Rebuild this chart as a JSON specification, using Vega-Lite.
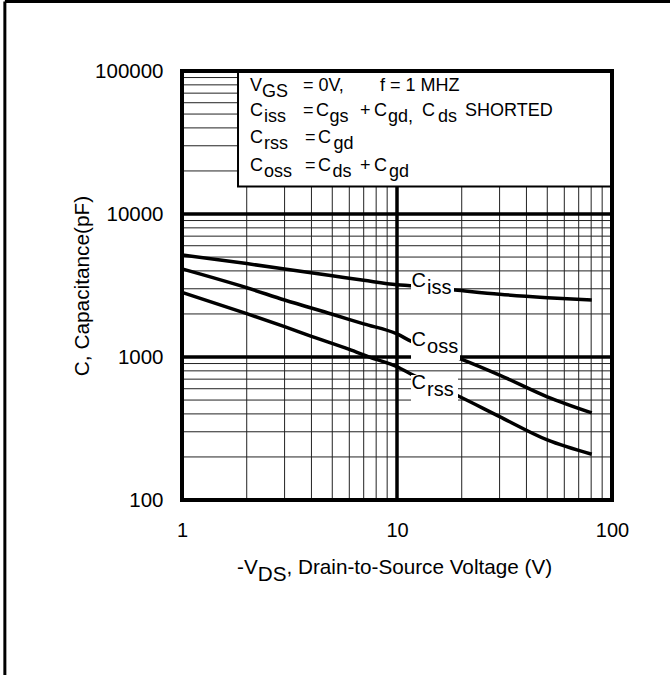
{
  "$schema": "https://vega.github.io/schema/vega-lite/v6.json",
  "width": 430,
  "height": 429,
  "autosize": {"type": "none"},
  "padding": {"left": 182, "top": 71, "right": 58, "bottom": 175},
  "background": "white",
  "config": {"view": {"stroke": null}, "font": "Liberation Sans"},
  "datasets": {
    "grid": [
      {"dir": "v", "val": 2, "kind": "minor"}, {"dir": "v", "val": 3, "kind": "minor"}, {"dir": "v", "val": 4, "kind": "minor"}, {"dir": "v", "val": 5, "kind": "minor"},
      {"dir": "v", "val": 6, "kind": "minor"}, {"dir": "v", "val": 7, "kind": "minor"}, {"dir": "v", "val": 8, "kind": "minor"}, {"dir": "v", "val": 9, "kind": "minor"},
      {"dir": "v", "val": 20, "kind": "minor"}, {"dir": "v", "val": 30, "kind": "minor"}, {"dir": "v", "val": 40, "kind": "minor"}, {"dir": "v", "val": 50, "kind": "minor"},
      {"dir": "v", "val": 60, "kind": "minor"}, {"dir": "v", "val": 70, "kind": "minor"}, {"dir": "v", "val": 80, "kind": "minor"}, {"dir": "v", "val": 90, "kind": "minor"},
      {"dir": "h", "val": 200, "kind": "minor"}, {"dir": "h", "val": 300, "kind": "minor"}, {"dir": "h", "val": 400, "kind": "minor"}, {"dir": "h", "val": 500, "kind": "minor"},
      {"dir": "h", "val": 600, "kind": "minor"}, {"dir": "h", "val": 700, "kind": "minor"}, {"dir": "h", "val": 800, "kind": "minor"}, {"dir": "h", "val": 900, "kind": "minor"},
      {"dir": "h", "val": 2000, "kind": "minor"}, {"dir": "h", "val": 3000, "kind": "minor"}, {"dir": "h", "val": 4000, "kind": "minor"}, {"dir": "h", "val": 5000, "kind": "minor"},
      {"dir": "h", "val": 6000, "kind": "minor"}, {"dir": "h", "val": 7000, "kind": "minor"}, {"dir": "h", "val": 8000, "kind": "minor"}, {"dir": "h", "val": 9000, "kind": "minor"},
      {"dir": "h", "val": 20000, "kind": "minor"}, {"dir": "h", "val": 30000, "kind": "minor"}, {"dir": "h", "val": 40000, "kind": "minor"}, {"dir": "h", "val": 50000, "kind": "minor"},
      {"dir": "h", "val": 60000, "kind": "minor"}, {"dir": "h", "val": 70000, "kind": "minor"}, {"dir": "h", "val": 80000, "kind": "minor"}, {"dir": "h", "val": 90000, "kind": "minor"},
      {"dir": "v", "val": 10, "kind": "major"},
      {"dir": "h", "val": 1000, "kind": "major"}, {"dir": "h", "val": 10000, "kind": "major"}
    ],
    "curves": [
      {"series": "Ciss", "vds": 1, "c": 5170}, {"series": "Ciss", "vds": 2, "c": 4500}, {"series": "Ciss", "vds": 3, "c": 4130},
      {"series": "Ciss", "vds": 5, "c": 3700}, {"series": "Ciss", "vds": 7, "c": 3440}, {"series": "Ciss", "vds": 10, "c": 3200},
      {"series": "Ciss", "vds": 11.5, "c": 3150}, {"series": "Ciss", "vds": 18.6, "c": 2940}, {"series": "Ciss", "vds": 30, "c": 2745},
      {"series": "Ciss", "vds": 50, "c": 2600}, {"series": "Ciss", "vds": 80.5, "c": 2500},
      {"series": "Coss", "vds": 1, "c": 4130}, {"series": "Coss", "vds": 2, "c": 3050}, {"series": "Coss", "vds": 3, "c": 2505},
      {"series": "Coss", "vds": 5, "c": 1990}, {"series": "Coss", "vds": 7, "c": 1705}, {"series": "Coss", "vds": 10, "c": 1450},
      {"series": "Coss", "vds": 11.6, "c": 1290}, {"series": "Coss", "vds": 20, "c": 964}, {"series": "Coss", "vds": 30, "c": 748},
      {"series": "Coss", "vds": 50, "c": 527}, {"series": "Coss", "vds": 80.5, "c": 407},
      {"series": "Crss", "vds": 1, "c": 2834}, {"series": "Crss", "vds": 2, "c": 2010}, {"series": "Crss", "vds": 3, "c": 1630},
      {"series": "Crss", "vds": 4, "c": 1395}, {"series": "Crss", "vds": 6, "c": 1130}, {"series": "Crss", "vds": 7.5, "c": 995},
      {"series": "Crss", "vds": 10, "c": 855}, {"series": "Crss", "vds": 11.8, "c": 750}, {"series": "Crss", "vds": 19.6, "c": 527},
      {"series": "Crss", "vds": 30, "c": 383}, {"series": "Crss", "vds": 50, "c": 263}, {"series": "Crss", "vds": 80.5, "c": 209}
    ],
    "boxes": [
      {"kind": "legend", "x1": 1.822, "x2": 100, "y1": 15570, "y2": 100000},
      {"kind": "label", "x1": 11.62, "x2": 18.41, "y1": 2627, "y2": 3930},
      {"kind": "label", "x1": 11.62, "x2": 19.64, "y1": 953, "y2": 1520},
      {"kind": "label", "x1": 11.62, "x2": 19.22, "y1": 492, "y2": 748},
      {"kind": "frame", "x1": 1, "x2": 100, "y1": 100, "y2": 100000}
    ],
    "border": [
      {"x1": 0.15, "x2": 200, "y1": 306000, "y2": 306000},
      {"x1": 0.15, "x2": 0.15, "y1": 306000, "y2": 5}
    ],
    "texts": [
      {"grp": "legend", "sub": false, "t": "V", "x": 2.072, "y": 77940},
      {"grp": "legend", "sub": true, "t": "GS", "x": 2.356, "y": 77940},
      {"grp": "legend", "sub": false, "t": "= 0V,", "x": 3.654, "y": 77940},
      {"grp": "legend", "sub": false, "t": "f = 1 MHZ", "x": 8.333, "y": 77940},
      {"grp": "legend", "sub": false, "t": "C", "x": 2.072, "y": 52520},
      {"grp": "legend", "sub": true, "t": "iss", "x": 2.407, "y": 52520},
      {"grp": "legend", "sub": false, "t": "=", "x": 3.654, "y": 52520},
      {"grp": "legend", "sub": false, "t": "C", "x": 4.2, "y": 52520},
      {"grp": "legend", "sub": true, "t": "gs", "x": 4.85, "y": 52520},
      {"grp": "legend", "sub": false, "t": "+", "x": 6.73, "y": 52520},
      {"grp": "legend", "sub": false, "t": "C", "x": 7.816, "y": 52520},
      {"grp": "legend", "sub": true, "t": "gd,", "x": 9.083, "y": 52520},
      {"grp": "legend", "sub": false, "t": "C", "x": 13.07, "y": 52520},
      {"grp": "legend", "sub": true, "t": "ds", "x": 15.51, "y": 52520},
      {"grp": "legend", "sub": false, "t": "SHORTED", "x": 20.72, "y": 52520},
      {"grp": "legend", "sub": false, "t": "C", "x": 2.072, "y": 34000},
      {"grp": "legend", "sub": true, "t": "rss", "x": 2.407, "y": 34000},
      {"grp": "legend", "sub": false, "t": "=", "x": 3.733, "y": 34000},
      {"grp": "legend", "sub": false, "t": "C", "x": 4.291, "y": 34000},
      {"grp": "legend", "sub": true, "t": "gd", "x": 5.06, "y": 34000},
      {"grp": "legend", "sub": false, "t": "C", "x": 2.072, "y": 21660},
      {"grp": "legend", "sub": true, "t": "oss", "x": 2.407, "y": 21660},
      {"grp": "legend", "sub": false, "t": "=", "x": 3.733, "y": 21660},
      {"grp": "legend", "sub": false, "t": "C", "x": 4.291, "y": 21660},
      {"grp": "legend", "sub": true, "t": "ds", "x": 5.01, "y": 21660},
      {"grp": "legend", "sub": false, "t": "+", "x": 6.73, "y": 21660},
      {"grp": "legend", "sub": false, "t": "C", "x": 7.816, "y": 21660},
      {"grp": "legend", "sub": true, "t": "gd", "x": 9.18, "y": 21660},
      {"grp": "big", "sub": false, "t": "C", "x": 11.68, "y": 3401},
      {"grp": "big", "sub": true, "t": "iss", "x": 13.79, "y": 3401},
      {"grp": "big", "sub": false, "t": "C", "x": 11.68, "y": 1315},
      {"grp": "big", "sub": true, "t": "oss", "x": 13.79, "y": 1315},
      {"grp": "big", "sub": false, "t": "C", "x": 11.68, "y": 653},
      {"grp": "big", "sub": true, "t": "rss", "x": 13.79, "y": 653},
      {"grp": "xt", "sub": false, "t": "-V", "x": 1.803, "y": 33.7},
      {"grp": "xt", "sub": true, "t": "DS", "x": 2.25, "y": 33.7},
      {"grp": "xt", "sub": false, "t": ", Drain-to-Source Voltage (V)", "x": 3.061, "y": 33.7}
    ]
  },
  "layer": [
    {
      "data": {"name": "grid"},
      "transform": [{"filter": "datum.dir === 'v' && datum.kind === 'minor'"}],
      "mark": {"type": "rule", "stroke": "#222222", "strokeWidth": 1},
      "encoding": {
        "x": {
          "field": "val", "type": "quantitative",
          "scale": {"type": "log", "domain": [1, 100], "nice": false, "zero": false},
          "axis": {"values": [1, 10, 100], "format": "d", "grid": false, "domain": false, "ticks": false, "tickSize": 0,
                   "labelPadding": 20, "labelFontSize": 20, "labelFont": "Liberation Sans", "labelColor": "black",
                   "labelFlush": false, "labelOverlap": false, "title": null}
        }
      }
    },
    {
      "data": {"name": "grid"},
      "transform": [{"filter": "datum.dir === 'h' && datum.kind === 'minor'"}],
      "mark": {"type": "rule", "stroke": "#222222", "strokeWidth": 1},
      "encoding": {
        "y": {
          "field": "val", "type": "quantitative",
          "scale": {"type": "log", "domain": [100, 100000], "nice": false, "zero": false},
          "axis": {"values": [100, 1000, 10000, 100000], "format": "d", "grid": false, "domain": false, "ticks": false, "tickSize": 0,
                   "labelPadding": 19, "labelFontSize": 20.5, "labelFont": "Liberation Sans", "labelColor": "black",
                   "labelFlush": false, "labelOverlap": false,
                   "title": "C, Capacitance(pF)", "titleFontSize": 20.8, "titleFontWeight": "normal", "titleFont": "Liberation Sans",
                   "titleColor": "black", "titleX": -94, "titleY": 214.5, "titleAngle": -90, "titleAlign": "center", "titleBaseline": "alphabetic"}
        }
      }
    },
    {
      "data": {"name": "grid"},
      "transform": [{"filter": "datum.dir === 'v' && datum.kind === 'major'"}],
      "mark": {"type": "rule", "stroke": "black", "strokeWidth": 3.5},
      "encoding": {"x": {"field": "val", "type": "quantitative"}}
    },
    {
      "data": {"name": "grid"},
      "transform": [{"filter": "datum.dir === 'h' && datum.kind === 'major'"}],
      "mark": {"type": "rule", "stroke": "black", "strokeWidth": 3.5},
      "encoding": {"y": {"field": "val", "type": "quantitative"}}
    },
    {
      "data": {"name": "boxes"},
      "transform": [{"filter": "datum.kind === 'legend'"}],
      "mark": {"type": "rect", "fill": "white", "stroke": "black", "strokeWidth": 2},
      "encoding": {
        "x": {"field": "x1", "type": "quantitative"}, "x2": {"field": "x2"},
        "y": {"field": "y1", "type": "quantitative"}, "y2": {"field": "y2"}
      }
    },
    {
      "data": {"name": "curves"},
      "mark": {"type": "line", "stroke": "black", "strokeWidth": 3.5, "interpolate": "monotone"},
      "encoding": {
        "x": {"field": "vds", "type": "quantitative"},
        "y": {"field": "c", "type": "quantitative"},
        "detail": {"field": "series"}
      }
    },
    {
      "data": {"name": "boxes"},
      "transform": [{"filter": "datum.kind === 'label'"}],
      "mark": {"type": "rect", "fill": "white", "strokeWidth": 0},
      "encoding": {
        "x": {"field": "x1", "type": "quantitative"}, "x2": {"field": "x2"},
        "y": {"field": "y1", "type": "quantitative"}, "y2": {"field": "y2"}
      }
    },
    {
      "data": {"name": "texts"},
      "transform": [{"filter": "datum.grp === 'legend' && !datum.sub"}],
      "mark": {"type": "text", "align": "left", "baseline": "middle", "font": "Liberation Sans", "fontSize": 18, "fill": "black"},
      "encoding": {"x": {"field": "x", "type": "quantitative"}, "y": {"field": "y", "type": "quantitative"}, "text": {"field": "t"}}
    },
    {
      "data": {"name": "texts"},
      "transform": [{"filter": "datum.grp === 'legend' && datum.sub"}],
      "mark": {"type": "text", "align": "left", "baseline": "middle", "font": "Liberation Sans", "fontSize": 18, "fill": "black", "dy": 6},
      "encoding": {"x": {"field": "x", "type": "quantitative"}, "y": {"field": "y", "type": "quantitative"}, "text": {"field": "t"}}
    },
    {
      "data": {"name": "texts"},
      "transform": [{"filter": "datum.grp === 'big' && !datum.sub"}],
      "mark": {"type": "text", "align": "left", "baseline": "middle", "font": "Liberation Sans", "fontSize": 20, "fill": "black"},
      "encoding": {"x": {"field": "x", "type": "quantitative"}, "y": {"field": "y", "type": "quantitative"}, "text": {"field": "t"}}
    },
    {
      "data": {"name": "texts"},
      "transform": [{"filter": "datum.grp === 'big' && datum.sub"}],
      "mark": {"type": "text", "align": "left", "baseline": "middle", "font": "Liberation Sans", "fontSize": 20, "fill": "black", "dy": 7},
      "encoding": {"x": {"field": "x", "type": "quantitative"}, "y": {"field": "y", "type": "quantitative"}, "text": {"field": "t"}}
    },
    {
      "data": {"name": "texts"},
      "transform": [{"filter": "datum.grp === 'xt' && !datum.sub"}],
      "mark": {"type": "text", "align": "left", "baseline": "middle", "font": "Liberation Sans", "fontSize": 20.7, "fill": "black"},
      "encoding": {"x": {"field": "x", "type": "quantitative"}, "y": {"field": "y", "type": "quantitative"}, "text": {"field": "t"}}
    },
    {
      "data": {"name": "texts"},
      "transform": [{"filter": "datum.grp === 'xt' && datum.sub"}],
      "mark": {"type": "text", "align": "left", "baseline": "middle", "font": "Liberation Sans", "fontSize": 20.7, "fill": "black", "dy": 7},
      "encoding": {"x": {"field": "x", "type": "quantitative"}, "y": {"field": "y", "type": "quantitative"}, "text": {"field": "t"}}
    },
    {
      "data": {"name": "boxes"},
      "transform": [{"filter": "datum.kind === 'frame'"}],
      "mark": {"type": "rect", "fillOpacity": 0, "stroke": "black", "strokeWidth": 4},
      "encoding": {
        "x": {"field": "x1", "type": "quantitative"}, "x2": {"field": "x2"},
        "y": {"field": "y1", "type": "quantitative"}, "y2": {"field": "y2"}
      }
    },
    {
      "data": {"name": "border"},
      "mark": {"type": "rule", "stroke": "black", "strokeWidth": 3},
      "encoding": {
        "x": {"field": "x1", "type": "quantitative"}, "x2": {"field": "x2"},
        "y": {"field": "y1", "type": "quantitative"}, "y2": {"field": "y2"}
      }
    }
  ]
}
